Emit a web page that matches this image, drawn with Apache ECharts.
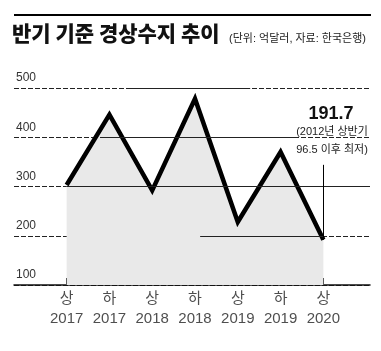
<!DOCTYPE html>
<html>
<head>
<meta charset="utf-8">
<script src="https://cdn.jsdelivr.net/npm/echarts@6/dist/echarts.min.js"></script>
<style>
  html, body { margin: 0; padding: 0; background: #fff; }
  #chart { width: 381px; height: 351px; }
</style>
</head>
<body>
<div id="chart"></div>
<script>
// 반기 구분 / 연도 / 경상수지(억달러)
var halves = ['상', '하', '상', '하', '상', '하', '상'];
var years = ['2017', '2017', '2018', '2018', '2019', '2019', '2020'];
var balance = [303, 446, 292, 478, 228, 370, 191.7];
var yTicks = [100, 200, 300, 400, 500];

// 그리드 실선 구간 (x index 범위, 나머지는 점선)
var solidGrid = [
  { y: 500, from: 1.48, to: 4.29 },
  { y: 400, from: 0.78, to: 5.41 },
  { y: 300, from: 0, to: 7.09 },
  { y: 200, from: 3.12, to: 6 }
];

var font = "'Liberation Sans', 'Noto Sans CJK KR', sans-serif";
var myChart = echarts.init(document.getElementById('chart'));

var points = balance.map(function (v, i) { return [i, v]; });
var idx = balance.map(function (v, i) { return i; });
var baseMarks = balance.map(function (v, i) { return [i, yTicks[0]]; });

var gridSegs = solidGrid.map(function (s) {
  return [{ coord: [s.from, s.y] }, { coord: [s.to, s.y] }];
});
var last = balance.length - 1;

var option = {
  animation: false,
  grid: { left: 14, right: 11, top: 88, bottom: 66 },
  xAxis: {
    type: 'value',
    min: -1.23,
    max: 7.09,
    axisLine: { show: true, lineStyle: { color: '#111', width: 1.5 } },
    axisTick: {
      show: true, inside: true, length: 7, customValues: idx,
      lineStyle: { color: '#111', width: 1 }
    },
    axisLabel: { show: false },
    splitLine: { show: false }
  },
  yAxis: {
    type: 'value',
    min: 100,
    max: 500,
    interval: 100,
    axisLine: { show: false },
    axisTick: { show: false },
    axisLabel: {
      inside: true,
      margin: 2,
      verticalAlign: 'bottom',
      padding: [0, 0, 4, 0],
      fontFamily: font,
      fontSize: 12,
      color: '#333'
    },
    splitLine: { lineStyle: { color: '#222', width: 1, type: [5, 2] } }
  },
  series: [
    {
      type: 'line',
      data: [],
      silent: true,
      markLine: {
        silent: true,
        symbol: 'none',
        label: { show: false },
        lineStyle: { color: '#222', width: 1, type: 'solid' },
        data: gridSegs
      }
    },
    {
      type: 'line',
      data: points,
      symbol: 'none',
      lineStyle: { color: '#000', width: 4.5, join: 'miter', miterLimit: 10 },
      areaStyle: { color: '#e9e9e9', origin: 'start', opacity: 1 },
      z: 3,
      markLine: {
        silent: true,
        symbol: 'none',
        label: { show: false },
        lineStyle: { color: '#000', width: 1, type: 'solid' },
        data: [[{ coord: [last, balance[last]] }, { coord: [last, 344] }]]
      }
    },
    {
      // x축 라벨 (상/하 + 연도)
      type: 'scatter',
      data: baseMarks,
      symbolSize: 0,
      silent: true,
      label: {
        show: true,
        position: 'bottom',
        distance: 4,
        fontFamily: font,
        fontSize: 15,
        lineHeight: 20,
        color: '#222',
        formatter: function (p) { return halves[p.dataIndex] + '\n' + years[p.dataIndex]; }
      }
    }
  ],
  graphic: [
    { type: 'line', shape: { x1: 14, y1: 15, x2: 371, y2: 15 }, style: { stroke: '#000', lineWidth: 2 } },
    {
      type: 'text', left: 12, top: 23,
      style: { text: '반기 기준 경상수지 추이', font: "900 21px 'Noto Sans CJK KR'", fill: '#111' }
    },
    {
      type: 'text', left: 229, top: 33,
      style: { text: '(단위: 억달러, 자료: 한국은행)', font: "11px " + font, fill: '#222' }
    },
    {
      type: 'text', x: 331, y: 114,
      style: { text: balance[last].toFixed(1), font: "bold 18px " + font, fill: '#111', align: 'center', verticalAlign: 'middle' }
    },
    {
      type: 'text', x: 332, y: 132,
      style: { text: '(2012년 상반기', font: "11px " + font, fill: '#222', align: 'center', verticalAlign: 'middle' }
    },
    {
      type: 'text', x: 332, y: 150,
      style: { text: '96.5 이후 최저)', font: "11px " + font, fill: '#222', align: 'center', verticalAlign: 'middle' }
    }
  ]
};

myChart.setOption(option);
</script>
</body>
</html>
